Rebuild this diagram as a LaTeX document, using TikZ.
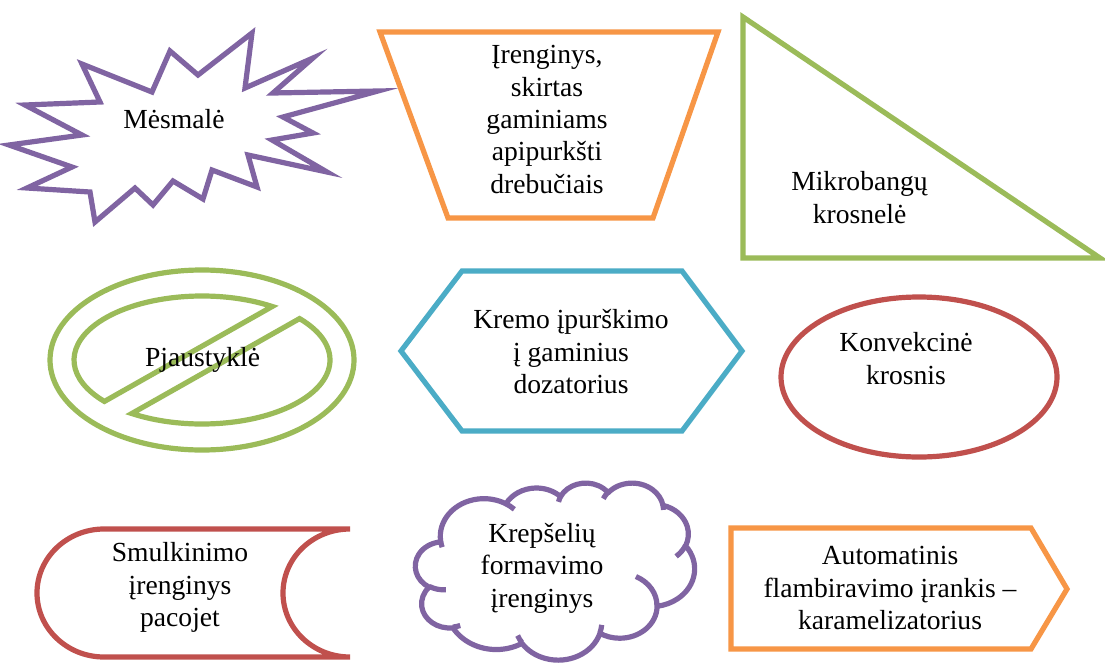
\documentclass[tikz,border=0pt]{standalone}
\usepackage{fontspec}
\setmainfont{Liberation Serif}
\definecolor{cpurple}{HTML}{8064A2}
\definecolor{corange}{HTML}{F79646}
\definecolor{cgreen}{HTML}{9BBB59}
\definecolor{cblue}{HTML}{4BACC6}
\definecolor{cred}{HTML}{C0504D}
\tikzset{
  shp/.style={line width=5.2pt, line join=miter},
  lbl/.style={inner sep=0pt, anchor=north, align=center,
    font=\fontsize{27.6}{32.3}\selectfont, execute at begin node=\strut},
  ooarc/.style n args={4}{insert path={arc[x radius=#1, y radius=#2,
    start angle={#3+mod(atan2(sin(#3)*#1,cos(#3)*#2)-(#3)+900,360)-180},
    end angle={#3+#4+mod(atan2(sin(#3+#4)*#1,cos(#3+#4)*#2)-(#3+#4)+900,360)-180}]}}
}
\begin{document}
\begin{tikzpicture}[x=1pt,y=-1pt]
\path[use as bounding box, fill=white] (0,0) rectangle (1105,664);

% explosion
\draw[shp, cpurple] (9,145) -- (82,135) -- (25,105) -- (100,102) -- (82,64) -- (152,92)
  -- (170,51) -- (198,75) -- (252,33) -- (245,88) -- (313,58) -- (273,93) -- (378,91)
  -- (283,117) -- (313,133) -- (272,140) -- (327,172) -- (248,155) -- (257,187)
  -- (212,170) -- (203,199) -- (173,181) -- (153,205) -- (135,188) -- (95,222)
  -- (90,192) -- (27,188) -- (72,167) -- cycle;

% trapezoid
\draw[shp, corange] (380,32) -- (718,32) -- (653,218) -- (448,218) -- cycle;

% right triangle
\draw[shp, cgreen] (743,17) -- (743,258) -- (1100,258) -- cycle;

% no-symbol
\pgfmathsetmacro\nsa{128}\pgfmathsetmacro\nsb{64}
\pgfmathsetmacro\nsh{12}\pgfmathsetmacro\nsphi{29.5}
\pgfmathsetmacro\nsR{sqrt((\nsa*sin(\nsphi))^2+(\nsb*cos(\nsphi))^2)}
\pgfmathsetmacro\nsal{atan2(\nsb*cos(\nsphi),\nsa*sin(\nsphi))}
\pgfmathsetmacro\nsbe{acos(\nsh/\nsR)}
\pgfmathsetmacro\tua{\nsal+180-\nsbe-360}
\pgfmathsetmacro\tub{\nsal-180+\nsbe}
\pgfmathsetmacro\tla{\nsal-\nsbe}
\pgfmathsetmacro\tlb{\nsal+\nsbe}
\draw[shp, cgreen] (202,360) ellipse[x radius=152, y radius=90];
\draw[shp, cgreen] ({202+\nsa*cos(\tub)},{360+\nsb*sin(\tub)})
  arc[x radius=\nsa, y radius=\nsb, start angle=\tub, end angle=\tua] -- cycle;
\draw[shp, cgreen] ({202+\nsa*cos(\tla)},{360+\nsb*sin(\tla)})
  arc[x radius=\nsa, y radius=\nsb, start angle=\tla, end angle=\tlb] -- cycle;

% hexagon
\draw[shp, cblue] (401,351) -- (462,271) -- (682,271) -- (742,351) -- (682,431) -- (462,431) -- cycle;

% ellipse
\draw[shp, cred] (919,377) ellipse[x radius=138, y radius=80];

% stored data shape
\draw[shp, cred] (350,529) -- (104,529) arc[start angle=-90, end angle=-270, x radius=67, y radius=64]
  -- (350,657) arc[start angle=90, end angle=270, x radius=67, y radius=64] -- cycle;

% home plate
\draw[shp, corange] (731,528) -- (1031,528) -- (1067,589) -- (1031,649) -- (731,649) -- cycle;

% cloud
\begin{scope}[xshift=415.5pt, yshift=-482.5pt, x=0.064583pt, y=-0.040972pt]
\draw[shp, cpurple, line join=round] (390,1437)
  [ooarc={675.3}{919.0}{-190.4875}{123.7805}]
  [ooarc={533.3}{726.7}{-144.1024}{89.9452}]
  [ooarc={436.5}{594.5}{-145.8079}{99.7230}]
  [ooarc={485.7}{659.5}{-130.9861}{117.2417}]
  [ooarc={533.3}{727.3}{-78.7089}{109.0269}]
  [ooarc={677.5}{922.0}{-46.2673}{130.2690}]
  [ooarc={578.5}{786.7}{0.6250}{114.0333}]
  [ooarc={675.2}{921.5}{22.4516}{115.1726}]
  [ooarc={772.0}{1054.3}{66.2426}{75.7110}]
  [ooarc={436.0}{591.8}{-274.9421}{146.7356}]
  [ooarc={434.5}{594.5}{-246.8285}{152.5189}] -- cycle;
\draw[shp, cpurple]
  (469.3,2617.7) [ooarc={434.5}{594.5}{86.742}{26.4295}]
  (692.8,3489.9) [ooarc={436.0}{591.8}{73.6105}{11.4475}]
  (1647.8,3909.0) [ooarc={675.2}{921.5}{137.6242}{14.0811}]
  (2882.7,3475.1) [ooarc={675.2}{921.5}{6.4533}{15.9984}]
  (3412.9,2295.4) [ooarc={578.5}{786.7}{-70.2924}{70.9174}]
  (4179.8,1535.4) [ooarc={533.3}{727.3}{30.3180}{27.7515}]
  (3832.4,542.6) [ooarc={485.7}{659.5}{-13.7443}{14.8589}]
  (2907.8,395.2) [ooarc={485.7}{659.5}{-149.1815}{18.1954}]
  (2214.1,472.0) [ooarc={436.5}{594.5}{-163.4943}{17.6864}]
  (1400.0,519.2) [ooarc={675.3}{919.0}{-66.7070}{12.3194}]
  (412.7,1578.9) [ooarc={675.3}{919.0}{157.6544}{11.8582}];
\end{scope}

% labels
\node[lbl] (t1) at (174,105.7) {Mėsmalė};
\node[lbl] (t2) at (547,45.4) {Įrenginys,\\ skirtas\\ gaminiams\\ apipurkšti\\ drebučiais};
\node[lbl] (t3) at (859.5,171.4) {Mikrobangų\\ krosnelė};
\node[lbl] (t4) at (202.5,344.1) {Pjaustyklė};
\node[lbl] (t5) at (571,309.4) {Kremo įpurškimo\\ į gaminius\\ dozatorius};
\node[lbl] (t6) at (906,332.4) {Konvekcinė\\ krosnis};
\node[lbl] (t7) at (180,542.4) {Smulkinimo\\ įrenginys\\ pacojet};
\node[lbl] (t8) at (542,523.1) {Krepšelių\\ formavimo\\ įrenginys};
\node[lbl] (t9) at (890,546.4) {Automatinis\\ flambiravimo įrankis –\\ karamelizatorius};
\end{tikzpicture}
\end{document}
